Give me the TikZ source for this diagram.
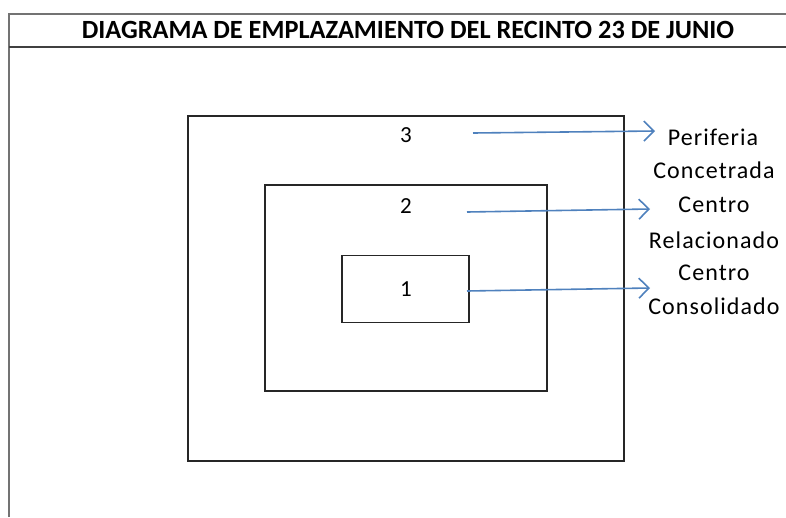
\documentclass[tikz,border=0pt]{standalone}
\usepackage{fontspec}
\setmainfont{Carlito}
\newfontfamily\lblfont[LetterSpace=4.5]{Carlito}
\usetikzlibrary{arrows.meta}
\definecolor{arrowblue}{RGB}{79,129,189}
\tikzset{
	ring/.style={draw=black!85, line width=1.6pt, inner sep=0pt},
	num/.style={inner sep=0pt, font=\fontsize{23}{28}\selectfont},
	lbl/.style={inner sep=0pt, font=\lblfont\fontsize{24}{28}\selectfont},
	pointer/.style={draw=arrowblue, line width=1.6pt, -{Straight Barb[length=10pt,width=20pt,line width=1.6pt]}}
}
\begin{document}
\begin{tikzpicture}[x=1pt, y=-1pt]
		\useasboundingbox (0,0) rectangle (786,517);
		% frame of the sheet
		\draw[black!55, line width=1.5pt] (9,517) -- (9,14) -- (786,14);
		\draw[black!75, line width=2pt] (9,47) -- (786,47);
		\node[inner sep=0pt, font=\bfseries\fontsize{26.3}{30}\selectfont] (title) at (408,30) {DIAGRAMA DE EMPLAZAMIENTO DEL RECINTO 23 DE JUNIO};
		
		% nested areas
		\node[ring, minimum width=436pt, minimum height=345pt] (R3) at (406,288.5) {};
		\node[ring, minimum width=282pt, minimum height=206pt] (R2) at (406,288) {};
		\node[ring, minimum width=127pt, minimum height=67pt] (R1) at (405.5,289) {};
		\node[num] (n3) at (406,135) {3};
		\node[num] (n2) at (406,206) {2};
		\node[num] (n1) at (406,289) {1};
		
		% labels
		\node[lbl] (P3a) at (713,137) {Periferia};
		\node[lbl] (P3b) at (714,170) {Concetrada};
		\node[lbl] (P2a) at (714,205) {Centro};
		\node[lbl] (P2b) at (714,240) {Relacionado};
		\node[lbl] (P1a) at (714,273) {Centro};
		\node[lbl] (P1b) at (714,306) {Consolidado};
		
		\coordinate (s3) at (473,133);
		\coordinate (e3) at (655,131);
		\coordinate (s2) at (467,212);
		\coordinate (e2) at (650,209);
		\coordinate (s1) at (467,291);
		\coordinate (e1) at (650,288);
		\draw[pointer] (s3) -- (e3);
		\draw[pointer] (s2) -- (e2);
		\draw[pointer] (s1) -- (e1);
	\end{tikzpicture}
\end{document}
